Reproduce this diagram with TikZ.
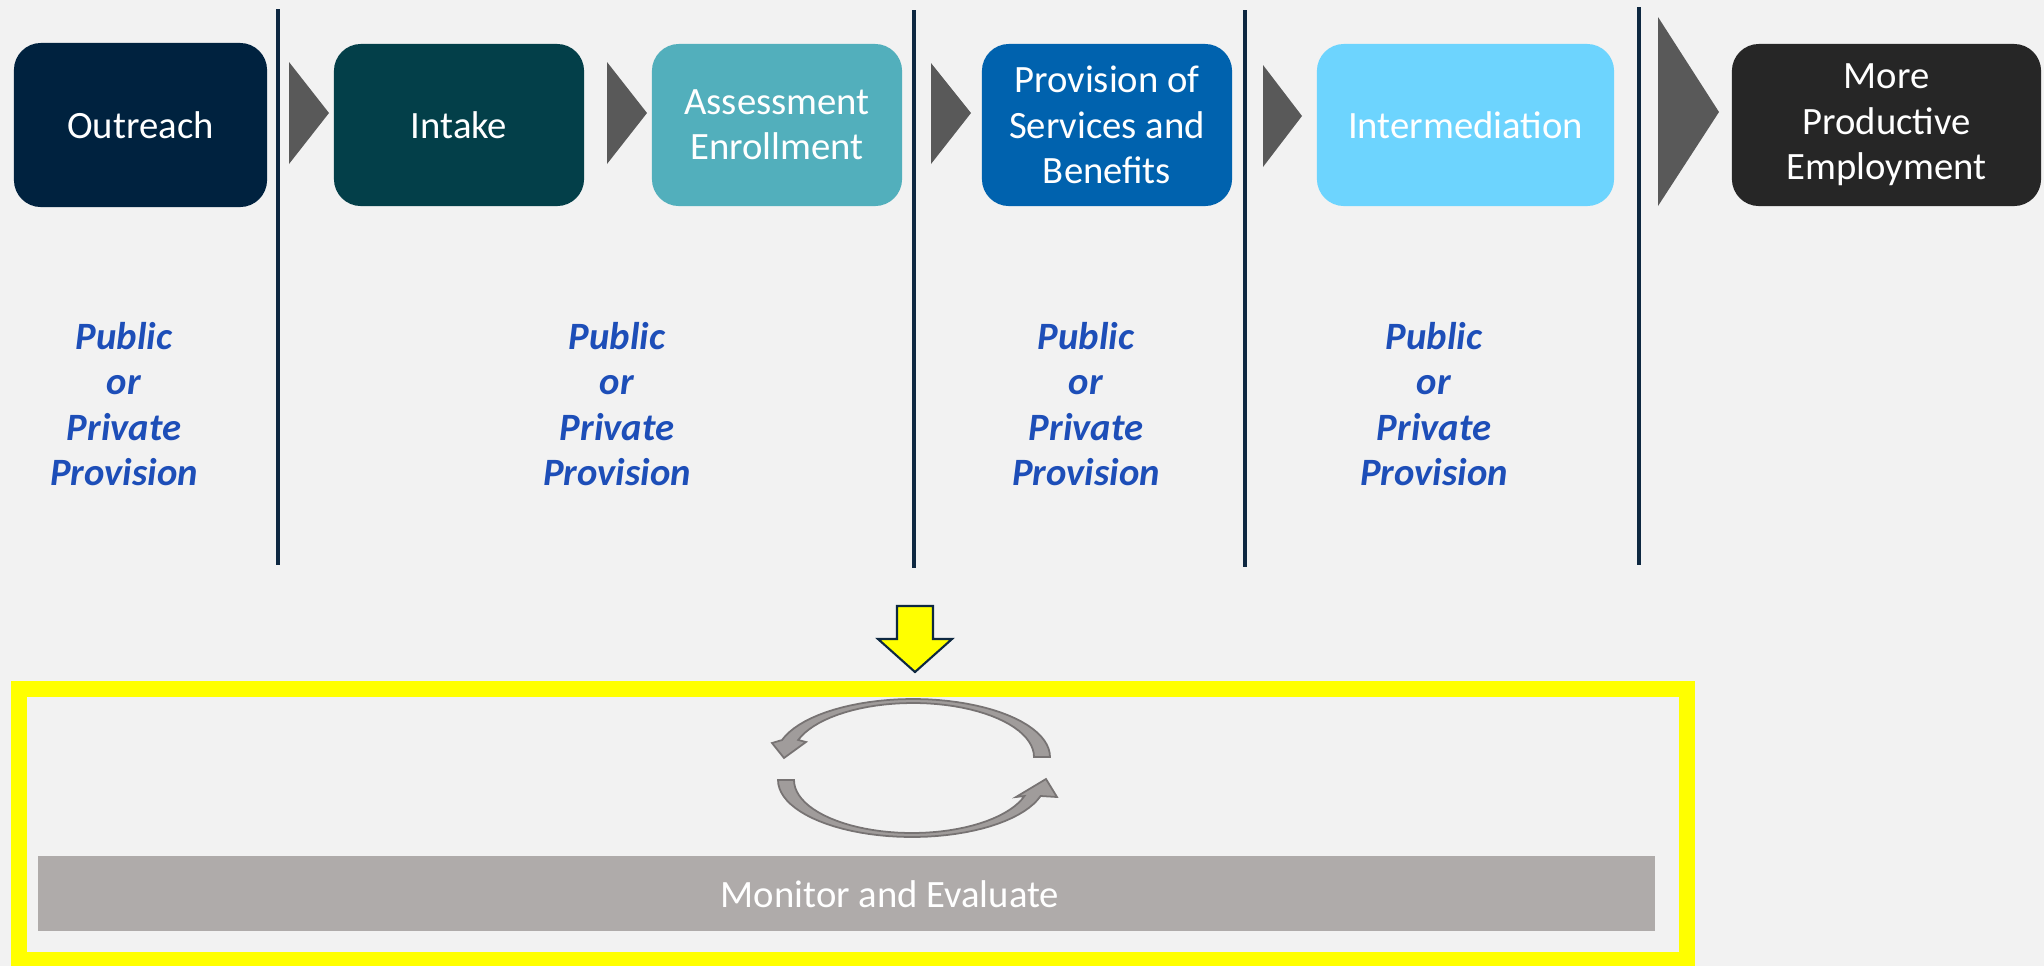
\documentclass[tikz,border=0pt]{standalone}
\usepackage{fontspec}
\setmainfont{Carlito}

\definecolor{bgcolor}{HTML}{F2F2F2}
\definecolor{outreachnavy}{HTML}{00223F}
\definecolor{intaketeal}{HTML}{033F49}
\definecolor{assessteal}{HTML}{52AFBC}
\definecolor{serviceblue}{HTML}{0062AE}
\definecolor{intermedblue}{HTML}{6DD4FE}
\definecolor{employblack}{HTML}{262626}
\definecolor{chevgray}{HTML}{595959}
\definecolor{dividernavy}{HTML}{0E2841}
\definecolor{provblue}{HTML}{1D4EB8}
\definecolor{bargray}{HTML}{AFABAA}
\definecolor{ringgray}{HTML}{A09C9B}
\definecolor{ringedge}{HTML}{777373}
\definecolor{frameyellow}{HTML}{FFFF00}

\begin{document}
\begin{tikzpicture}[x=0.01cm, y=-0.01cm,
    stagebox/.style={rounded corners=0.27cm, text=white, align=center, inner sep=0pt,
        minimum height=1.62cm, font=\fontsize{11}{12.9}\selectfont},
    provision/.style={text=provblue, align=center, font=\fontsize{11}{12.9}\selectfont\bfseries\itshape},
    divider/.style={line width=1.4pt, draw=dividernavy}]

    \fill[bgcolor] (0, 0) rectangle (2044, 966);
    \useasboundingbox (0, 0) rectangle (2044, 966);

    \node[stagebox, fill=outreachnavy, minimum width=2.53cm, minimum height=1.64cm] (outreach) at (140.5, 125) {Outreach};
    \node[stagebox, fill=intaketeal, minimum width=2.5cm] (intake) at (459, 125) {Intake};
    \node[stagebox, fill=assessteal, minimum width=2.5cm] (assess) at (777, 125) {Assessment\\Enrollment};
    \node[stagebox, fill=serviceblue, minimum width=2.5cm] (services) at (1107, 125) {Provision of\\Services and\\Benefits};
    \node[stagebox, fill=intermedblue, minimum width=2.97cm] (intermed) at (1465.5, 125) {Intermediation};
    \node[stagebox, fill=employblack, minimum width=3.09cm] (employ) at (1886.5, 125) {More\\Productive\\Employment};

    \fill[chevgray] (289, 62) -- (329, 113) -- (289, 164) -- cycle;
    \fill[chevgray] (607, 62) -- (647, 113) -- (607, 164) -- cycle;
    \fill[chevgray] (931, 63) -- (971, 113) -- (931, 164) -- cycle;
    \fill[chevgray] (1263, 65) -- (1302, 116) -- (1263, 167) -- cycle;
    \fill[chevgray] (1658, 17) -- (1719, 112) -- (1658, 206) -- cycle;

    \draw[divider] (278, 9) -- (278, 565);
    \draw[divider] (914, 10) -- (914, 568);
    \draw[divider] (1245, 10) -- (1245, 567);
    \draw[divider] (1639, 7) -- (1639, 565);

    \node[provision] (prov1) at (124, 404) {Public\\or\\Private\\Provision};
    \node[provision] (prov2) at (617, 404) {Public\\or\\Private\\Provision};
    \node[provision] (prov3) at (1086, 404) {Public\\or\\Private\\Provision};
    \node[provision] (prov4) at (1434, 404) {Public\\or\\Private\\Provision};

    % arrow down into the monitoring frame
    \filldraw[fill=frameyellow, draw=dividernavy, line width=0.6pt]
        (897, 606) -- (933, 606) -- (933, 639) -- (952, 639) -- (915, 672) -- (878, 639) -- (897, 639) -- cycle;

    \draw[frameyellow, line width=0.16cm] (19, 689) rectangle (1687, 960);

    % cycle arrows
    \filldraw[fill=ringgray, draw=ringedge, line width=0.5pt]
        plot[domain=0:163, samples=40] ({913+137*cos(\x)}, {757-58*sin(\x)})
        -- (772, 743) -- (784, 758) -- (806, 742)
        -- plot[domain=161.6:0, samples=40] ({913+121*cos(\x)}, {757-54*sin(\x)}) -- cycle;
    \filldraw[fill=ringgray, draw=ringedge, line width=0.5pt]
        plot[domain=180:343.7, samples=40] ({912+134*cos(\x)}, {780-57*sin(\x)})
        -- (1057, 797) -- (1046, 779) -- (1016, 797)
        -- plot[domain=342.4:180, samples=40] ({912+118*cos(\x)}, {780-53*sin(\x)}) -- cycle;

    \fill[bargray] (38, 856) rectangle (1655, 931);
    \node[text=white, font=\fontsize{11}{12.9}\selectfont] (monitor) at (890, 894) {Monitor and Evaluate};

\end{tikzpicture}
\end{document}
